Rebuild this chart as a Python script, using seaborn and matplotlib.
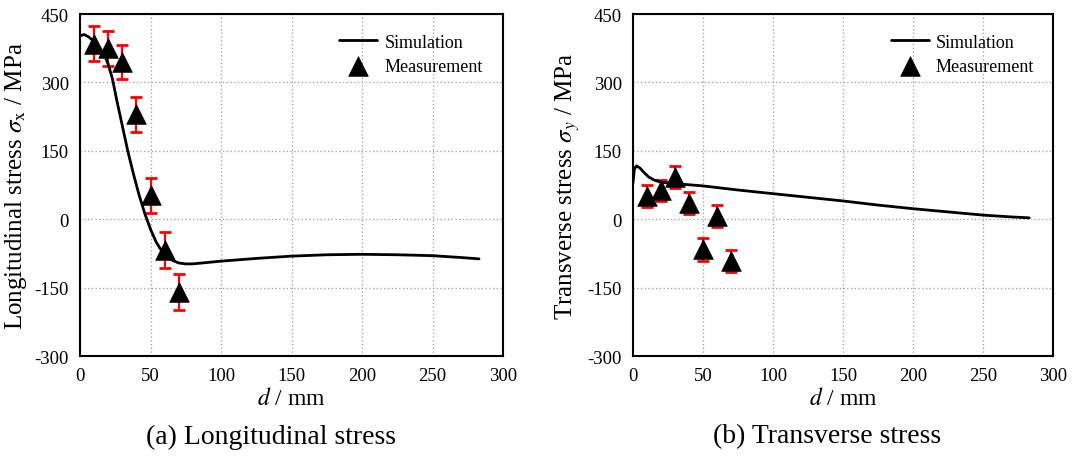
import numpy as np
import pandas as pd
import matplotlib
matplotlib.use("Agg")
import matplotlib.pyplot as plt
from matplotlib.ticker import MultipleLocator
import seaborn as sns

# ---- data ----
meas_d = [10, 20, 30, 40, 50, 60, 70]

long_meas = [385, 375, 345, 230, 52, -68, -160]
long_err = [38, 38, 38, 39, 38, 39, 40]
long_sim_d = [0, 3, 6, 10, 14, 17, 20, 23, 26, 30, 34, 38, 42, 46, 50, 54, 58,
              62, 66, 70, 75, 80, 90, 100, 125, 150, 175, 200, 225, 250, 270, 283]
long_sim = [402, 405, 400, 390, 376, 362, 340, 308, 262, 205, 148, 98, 52, 12,
            -22, -50, -70, -83, -91, -96, -98, -98, -95, -92, -86, -81, -78,
            -77, -78, -80, -84, -87]

trans_meas = [50, 63, 93, 35, -66, 7, -92]
trans_err = [24, 23, 24, 24, 25, 24, 24]
trans_sim_d = [0, 1, 2.5, 5, 8, 11, 15, 20, 30, 50, 75, 100, 125, 150, 175,
               200, 225, 250, 270, 283]
trans_sim = [80, 110, 117, 112, 102, 93, 86, 81, 78, 73, 64, 56, 48, 40, 31,
             23, 16, 9, 5, 3]

x_ticks = [0, 50, 100, 150, 200, 250, 300]
y_ticks = [-300, -150, 0, 150, 300, 450]

ylabels = [r"Longitudinal stress $\sigma_{\mathrm{x}}$ / MPa",
           r"Transverse stress $\sigma_{y}$ / MPa"]
captions = ["(a) Longitudinal stress", "(b) Transverse stress"]
caption_x = [271 / 1075, 827 / 1075]
leg_labels = ["Simulation", "Measurement"]

# ---- style ----
sns.set_theme(style="white")
plt.rcParams["font.family"] = ["Liberation Serif", "DejaVu Serif"]
plt.rcParams["mathtext.fontset"] = "stix"
plt.rcParams["axes.unicode_minus"] = False
plt.rcParams["text.color"] = "black"
plt.rcParams["axes.labelcolor"] = "black"

fig = plt.figure(figsize=(10.75, 4.6), dpi=100)
axes = [fig.add_axes([80 / 1075, 103 / 460, 423 / 1075, 342 / 460]),
        fig.add_axes([633 / 1075, 103 / 460, 420 / 1075, 342 / 460])]

panels = [
    (long_sim_d, long_sim, long_meas, long_err),
    (trans_sim_d, trans_sim, trans_meas, trans_err),
]

for i, (ax, (sd, sv, mv, me)) in enumerate(zip(axes, panels)):
    sim_df = pd.DataFrame({"d": sd, "v": sv})
    meas_df = pd.DataFrame({"d": meas_d, "v": mv, "e": me})
    ax.errorbar(meas_df["d"], meas_df["v"], yerr=meas_df["e"], fmt="none",
                ecolor="#ff0000", elinewidth=1.6, capsize=4.3, capthick=2,
                zorder=2)
    sns.lineplot(data=sim_df, x="d", y="v", ax=ax, color="black",
                 linewidth=2, label=leg_labels[0], zorder=3)
    sns.scatterplot(data=meas_df, x="d", y="v", ax=ax, marker="^", s=200,
                    color="black", edgecolor="black", linewidth=0.5,
                    label=leg_labels[1], zorder=4)

    ax.set_xlim(0, 300)
    ax.set_ylim(-300, 450)
    ax.set_xticks(x_ticks)
    ax.set_yticks(y_ticks)
    ax.xaxis.set_minor_locator(MultipleLocator(25))
    ax.yaxis.set_minor_locator(MultipleLocator(75))
    ax.tick_params(which="both", direction="in", top=False, right=False,
                   labelsize=13.5, colors="black", pad=8)
    ax.tick_params(which="major", length=5, width=1.2)
    ax.tick_params(which="minor", length=3, width=1.2)
    ax.grid(True, which="major", linestyle=(0, (1, 2)), color="#9a9a9a",
            linewidth=0.9)
    for s in ax.spines.values():
        s.set_linewidth(1.5)
        s.set_color("black")
    ax.set_xlabel(r"$d$ / mm", fontsize=17, labelpad=2)
    ax.set_ylabel(ylabels[i], fontsize=18, labelpad=4)
    leg = ax.legend(loc="upper left", bbox_to_anchor=(0.575, 0.99),
                    frameon=False, fontsize=13, handlelength=2.1,
                    handletextpad=0.4, labelspacing=0.4)
    fig.text(caption_x[i], 23 / 460, captions[i], ha="center",
             va="center", fontsize=20)

fig.savefig("out.png", dpi=100)
